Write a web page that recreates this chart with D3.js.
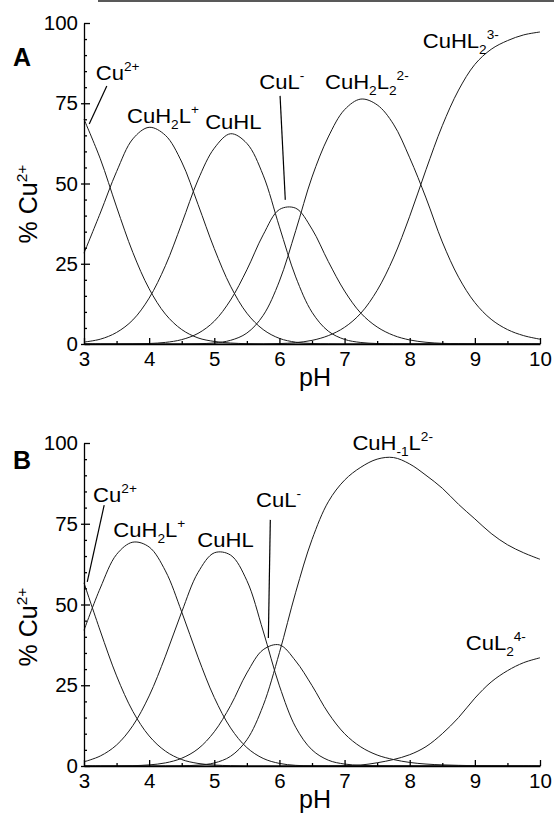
<!DOCTYPE html>
<html>
<head>
<meta charset="utf-8">
<script src="https://cdn.jsdelivr.net/npm/d3@7"></script>
<style>
  body { margin: 0; background: #fff; }
  svg { display: block; font-family: "Liberation Sans", Arial, sans-serif; }
  .curve { fill: none; stroke: #1a1a1a; stroke-width: 1; }
  .axis path, .axis line { stroke: #000; stroke-width: 1.3; }
</style>
</head>
<body>
<script>
// pH grid shared by both panels
const pH = [3, 3.25, 3.5, 3.75, 4, 4.25, 4.5, 4.75, 5, 5.25, 5.5, 5.75, 6, 6.25, 6.5, 6.75,
            7, 7.25, 7.5, 7.75, 8, 8.25, 8.5, 8.75, 9, 9.25, 9.5, 9.75, 10];

// panel A  (% Cu2+ per species)
const aCu    = [70, 57.7, 42.7, 28.5, 17.2, 9.3, 4.5, 1.9, 0.8, 0.3, 0.1, 0, 0, 0, 0, 0, 0, 0, 0, 0, 0, 0, 0, 0, 0, 0, 0, 0, 0];
const aCuH2L = [28.3, 40.8, 53.7, 63.9, 67.5, 65, 56.7, 43.5, 29.7, 18, 9.6, 4.5, 1.75, 0.56, 0.15, 0.04, 0, 0, 0, 0, 0, 0, 0, 0, 0, 0, 0, 0, 0];
const aCuHL  = [0.6, 1.5, 3.6, 7.5, 14.3, 24.4, 37.5, 51.1, 61, 65.5, 62.5, 52.6, 36.5, 20.9, 9.9, 4, 1.43, 0.47, 0.15, 0.05, 0, 0, 0, 0, 0, 0, 0, 0, 0];
const aCuL   = [0, 0, 0, 0.05, 0.16, 0.5, 1.36, 3.3, 7.1, 13.7, 23.1, 34, 41.9, 42.3, 35.8, 25.7, 16.5, 9.6, 5.3, 2.7, 1.26, 0.54, 0.2, 0.1, 0, 0, 0, 0, 0];
const aCuH2L2 = [0, 0, 0, 0, 0, 0, 0.02, 0.09, 0.33, 1.14, 3.4, 8.9, 19.6, 35.3, 52, 64.5, 73, 76.3, 74.5, 68.5, 58, 45.5, 31.8, 20.8, 12.9, 7.7, 4.5, 2.6, 1.5];
const aCuHL2 = [0, 0, 0, 0, 0, 0, 0, 0, 0, 0, 0, 0.03, 0.13, 0.43, 1.13, 2.6, 5.2, 9.6, 16.7, 26.8, 39.8, 54.3, 68, 79.1, 87.1, 91.8, 94.5, 96.3, 97.2];

// panel B
const bCu    = [56.7, 41.8, 27.9, 16.9, 9.3, 4.6, 2, 0.8, 0.3, 0.1, 0, 0, 0, 0, 0, 0, 0, 0, 0, 0, 0, 0, 0, 0, 0, 0, 0, 0, 0];
const bCuH2L = [42, 55.1, 65.5, 69.3, 67.8, 60.4, 47.7, 33.7, 21.2, 11.8, 5.7, 2.35, 0.8, 0.2, 0.05, 0, 0, 0, 0, 0, 0, 0, 0, 0, 0, 0, 0, 0, 0];
const bCuHL  = [1.3, 3.1, 6.5, 12.5, 21.7, 34, 47.7, 59.9, 66, 65.3, 57.4, 41.8, 24.8, 12, 5, 1.8, 0.6, 0.2, 0.05, 0, 0, 0, 0, 0, 0, 0, 0, 0, 0];
const bCuL   = [0, 0, 0.03, 0.1, 0.34, 0.96, 2.4, 5.3, 10.6, 18.7, 28.8, 36, 37.5, 32.5, 24.9, 16.4, 10, 5.9, 3.4, 2, 1.1, 0.6, 0.35, 0.2, 0.1, 0.05, 0, 0, 0];
const bCuHm1L = [0, 0, 0, 0, 0, 0.02, 0.07, 0.27, 0.94, 3, 8.1, 18.7, 35.1, 53.8, 70.1, 81.8, 88.5, 92.5, 95, 95.5, 93.5, 90, 86, 81, 76.5, 72, 68.5, 66, 64];
const bCuL2  = [0, 0, 0, 0, 0, 0, 0, 0, 0, 0, 0, 0, 0, 0, 0, 0, 0.1, 0.3, 1, 2, 3.5, 6, 10, 15, 21, 26, 29.5, 32, 33.5];

// axis ticks
const xTicks = [3, 4, 5, 6, 7, 8, 9, 10];
const xMinor = [3.5, 4.5, 5.5, 6.5, 7.5, 8.5, 9.5];
const yTicks = [0, 25, 50, 75, 100];
const yMinor = [5, 10, 15, 20, 30, 35, 40, 45, 55, 60, 65, 70, 80, 85, 90, 95];

// species labels: parts [text, kind], position [pH, %]
const labelsA = [
  { parts: [["Cu", ""], ["2+", "sup"]], at: [3.18, 82.2] },
  { parts: [["CuH", ""], ["2", "sub"], ["L", ""], ["+", "sup"]], at: [3.66, 68.8] },
  { parts: [["CuHL", ""]], at: [4.86, 67.0] },
  { parts: [["CuL", ""], ["-", "sup"]], at: [5.69, 79.4] },
  { parts: [["CuH", ""], ["2", "sub"], ["L", ""], ["2", "sub"], ["2-", "sup"]], at: [6.70, 79.4] },
  { parts: [["CuHL", ""], ["2", "sub"], ["3-", "sup"]], at: [8.20, 92.2] }
];
const pointersA = [[[3.35, 80.4], [3.08, 68.5]], [[6.01, 77.3], [6.09, 44.9]]];

const labelsB = [
  { parts: [["Cu", ""], ["2+", "sup"]], at: [3.14, 81.7] },
  { parts: [["CuH", ""], ["2", "sub"], ["L", ""], ["+", "sup"]], at: [3.45, 70.9] },
  { parts: [["CuHL", ""]], at: [4.74, 67.8] },
  { parts: [["CuL", ""], ["-", "sup"]], at: [5.64, 80.2] },
  { parts: [["CuH", ""], ["-1", "sub"], ["L", ""], ["2-", "sup"]], at: [7.12, 97.8] },
  { parts: [["CuL", ""], ["2", "sub"], ["4-", "sup"]], at: [8.86, 35.9] }
];
const pointersB = [[[3.31, 80.8], [3.05, 57.0]], [[5.86, 76.2], [5.83, 39.6]]];

const W = 554, H = 817;

const svg = d3.select('body')
    .append('svg')
    .attr('width', W)
    .attr('height', H)

// thin scan edge along the top
svg.append('line')
    .attr('x1', 98).attr('x2', W).attr('y1', 1).attr('y2', 1)
    .attr('stroke', '#222').attr('stroke-width', 1.5)

// plain / sub / sup parts as tspans
function richText(sel, parts, size) {
    let prev = 0
    parts.forEach(p => {
        const t = sel.append('tspan').text(p[0])
        let target = 0
        if (p[1] === 'sup') target = -size * 0.42
        if (p[1] === 'sub') target = size * 0.3
        if (p[1] !== '') t.attr('font-size', size * 0.62)
        t.attr('dy', target - prev)
        prev = target
    })
}

function drawPanel(cfg) {
    const x = d3.scaleLinear().domain([3, 10]).range([84, 540])
    const y = d3.scaleLinear().domain([0, 100]).range([cfg.y0, cfg.y100])

    const g = svg.append('g')

    const line = d3.line()
        .x((d, i) => x(pH[i]))
        .y(d => y(d))
        .curve(d3.curveCatmullRom.alpha(0.5))

    cfg.series.forEach(s => {
        g.append('path').attr('class', 'curve').attr('d', line(s))
    })

    // axes
    g.append('g')
        .attr('class', 'axis')
        .attr('transform', 'translate(0,' + cfg.y0 + ')')
        .call(d3.axisBottom(x).tickValues(xTicks).tickFormat(d3.format('d'))
            .tickSizeInner(-6).tickSizeOuter(0).tickPadding(7))
    g.append('g')
        .attr('class', 'axis')
        .attr('transform', 'translate(0,' + cfg.y0 + ')')
        .call(d3.axisBottom(x).tickValues(xMinor).tickSizeInner(-3).tickSizeOuter(0).tickFormat(''))
        .select('.domain').remove()

    g.append('g')
        .attr('class', 'axis')
        .attr('transform', 'translate(84,0)')
        .call(d3.axisLeft(y).tickValues(yTicks).tickSizeInner(-6).tickSizeOuter(0).tickPadding(6))
    g.append('g')
        .attr('class', 'axis')
        .attr('transform', 'translate(84,0)')
        .call(d3.axisLeft(y).tickValues(yTicks.slice(0, 4)).tickSizeInner(3).tickSizeOuter(0).tickFormat(''))
        .select('.domain').remove()
    g.append('g')
        .attr('class', 'axis')
        .attr('transform', 'translate(84,0)')
        .call(d3.axisLeft(y).tickValues(yMinor).tickSizeInner(-3).tickSizeOuter(0).tickFormat(''))
        .select('.domain').remove()

    g.selectAll('.axis text')
        .attr('font-size', 20.5)
        .attr('font-family', '"Liberation Sans", Arial, sans-serif')
        .attr('fill', '#000')

    // titles
    g.append('text')
        .attr('x', 315).attr('y', cfg.y0 + 42)
        .attr('text-anchor', 'middle')
        .attr('font-size', 25)
        .text('pH')

    const yt = g.append('text')
        .attr('transform', 'translate(37,' + cfg.yTitle + ') rotate(-90)')
        .attr('text-anchor', 'middle')
        .attr('font-size', 25)
    richText(yt, [['% Cu', ''], ['2+', 'sup']], 25)

    g.append('text')
        .attr('x', 13).attr('y', cfg.letterY)
        .attr('font-size', 25)
        .attr('font-weight', 'bold')
        .text(cfg.letter)

    // species labels
    cfg.labels.forEach(l => {
        const t = g.append('text')
            .attr('transform', 'translate(' + x(l.at[0]) + ',' + y(l.at[1]) + ') scale(1.05,1)')
            .attr('font-size', 21)
        richText(t, l.parts, 21)
    })
    cfg.pointers.forEach(p => {
        g.append('line')
            .attr('x1', x(p[0][0])).attr('y1', y(p[0][1]))
            .attr('x2', x(p[1][0])).attr('y2', y(p[1][1]))
            .attr('stroke', '#000').attr('stroke-width', 1.2)
    })
}

drawPanel({
    y0: 344, y100: 23, yTitle: 204, letter: 'A', letterY: 66,
    series: [aCu, aCuH2L, aCuHL, aCuL, aCuH2L2, aCuHL2],
    labels: labelsA, pointers: pointersA
})

drawPanel({
    y0: 766, y100: 443, yTitle: 627, letter: 'B', letterY: 469,
    series: [bCu, bCuH2L, bCuHL, bCuL, bCuHm1L, bCuL2],
    labels: labelsB, pointers: pointersB
})
</script>
</body>
</html>
